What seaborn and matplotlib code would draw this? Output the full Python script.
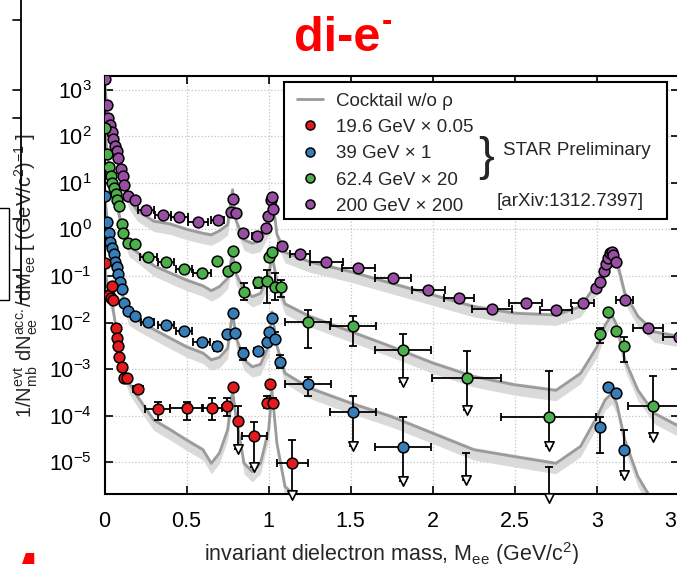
import numpy as np
import matplotlib
matplotlib.use("Agg")
import matplotlib.pyplot as plt
import seaborn as sns
from matplotlib.lines import Line2D
from matplotlib.patches import Rectangle
from matplotlib.ticker import FixedLocator, FuncFormatter, NullLocator

# ---- cocktail (w/o rho), common mass grid ----
mass = [0.0, 0.02, 0.05, 0.1, 0.15, 0.2, 0.3, 0.4, 0.5, 0.6, 0.65, 0.7, 0.75, 0.78, 0.8,
        0.85, 0.9, 0.95, 1.0, 1.02, 1.05, 1.1, 1.25, 1.5, 1.75, 2.0, 2.25, 2.5, 2.75, 2.9,
        3.0, 3.05, 3.09, 3.12, 3.17, 3.25, 3.35, 3.5]
ck_200 = [1.6e3, 250, 80, 16, 4.5, 2.5, 1.5, 1.3, 1.0, 0.82, 0.76, 0.93, 1.26, 7.1, 1.6,
          0.59, 0.50, 0.56, 1.26, 6.0, 0.79, 0.32, 0.20, 0.123, 0.069, 0.039, 0.022, 0.0158,
          0.0145, 0.022, 0.069, 0.20, 0.33, 0.22, 0.043, 0.0135, 0.0063, 0.005]
ck_62 = [160, 32, 8.9, 1.4, 0.43, 0.32, 0.166, 0.115, 0.081, 0.061, 0.048, 0.059, 0.089, 0.31,
         0.112, 0.050, 0.036, 0.042, 0.10, 0.28, 0.079, 0.025, 0.0135, 0.0064, 0.0030, 0.00135,
         6.9e-4, 4.6e-4, 3.5e-4, 8.1e-4, 0.0030, 0.0089, 0.0145, 0.0089, 0.00158, 3.5e-4,
         1.12e-4, 5.9e-5]
ck_39 = [5.6, 1.26, 0.32, 0.050, 0.0145, 0.0112, 0.0071, 0.0046, 0.0030, 0.0022, 0.00158,
         0.00178, 0.0028, 0.017, 0.0050, 0.00158, 0.00112, 0.00126, 0.0032, 0.017, 0.0032,
         8.1e-4, 3.9e-4, 1.86e-4, 9.5e-5, 4.2e-5, 1.86e-5, 1.32e-5, 9.5e-6, 2.2e-5, 9.5e-5,
         2.2e-4, 3.0e-4, 1.86e-4, 3.0e-5, 4.9e-6, 1.26e-6, 6.3e-7]
ck_19 = [0.18, 0.050, 0.022, 0.00158, 5.0e-4, 2.6e-4, 8.1e-5, 5.0e-5, 3.0e-5, 1.86e-5, 9.5e-6,
         1.58e-5, 5.0e-5, 3.5e-4, 1.0e-4, 9.5e-6, 6.3e-6, 9.5e-6, 5.0e-5, 3.5e-4, 2.6e-5, 3.0e-6,
         1e-6, 5e-7, 2.5e-7, 1.3e-7, 6.3e-8, 4e-8, 3.2e-8, 1e-7, 4e-7, 1e-6, 1.8e-6, 1e-6,
         2.5e-7, 5e-8, 1.6e-8, 1e-8]

# ---- 200 GeV x 200 ----
x_200 = [0.003, 0.013, 0.023, 0.034, 0.044, 0.054, 0.064, 0.074, 0.084, 0.10, 0.115, 0.12,
         0.145, 0.186, 0.253, 0.355, 0.456, 0.568, 0.69, 0.77, 0.785, 0.80, 0.846, 0.927,
         0.982, 0.998, 1.012, 1.019, 1.029, 1.083, 1.19, 1.35, 1.547, 1.76, 1.973, 2.16,
         2.36, 2.567, 2.75, 2.914, 2.995, 3.02, 3.04, 3.054, 3.066, 3.08, 3.09, 3.10, 3.115,
         3.168, 3.31, 3.5]
y_200 = [1.7e3, 470, 240, 170, 120, 85, 63, 47, 34, 20, 14, 8.9, 5.2, 4.3, 2.6, 2.0, 1.8,
         1.46, 1.55, 2.4, 4.5, 2.2, 0.85, 0.73, 1.05, 1.95, 4.3, 4.9, 2.7, 0.43, 0.30, 0.195,
         0.148, 0.091, 0.051, 0.034, 0.020, 0.026, 0.019, 0.026, 0.055, 0.076, 0.13, 0.18,
         0.24, 0.31, 0.32, 0.28, 0.20, 0.031, 0.0076, 0.005]
xe_200 = [0.003, 0.005, 0.005, 0.005, 0.005, 0.005, 0.005, 0.005, 0.005, 0.007, 0.007, 0.007,
          0.01, 0.02, 0.05, 0.05, 0.05, 0.06, 0.04, 0.008, 0.008, 0.008, 0.02, 0.03, 0.006,
          0.006, 0.006, 0.006, 0.006, 0.025, 0.06, 0.1, 0.1, 0.11, 0.1, 0.09, 0.12, 0.1,
          0.095, 0.07, 0.005, 0.005, 0.005, 0.005, 0.005, 0.005, 0.005, 0.005, 0.005, 0.05,
          0.09, 0.1]

# ---- 62.4 GeV x 20 ----
x_62 = [0.003, 0.017, 0.027, 0.038, 0.048, 0.058, 0.068, 0.078, 0.088, 0.105, 0.115, 0.14,
        0.186, 0.267, 0.373, 0.485, 0.592, 0.684, 0.75, 0.781, 0.795, 0.85, 0.937, 0.988,
        1.005, 1.019, 1.04, 1.074, 1.238, 1.512, 3.02, 3.07, 3.117, 3.166]
y_62 = [150, 42, 22, 14, 10, 7.9, 5.8, 4.3, 3.1, 1.3, 0.83, 0.50, 0.49, 0.25, 0.195, 0.14,
        0.115, 0.21, 0.13, 0.35, 0.155, 0.046, 0.073, 0.078, 0.25, 0.33, 0.059, 0.058, 0.0105,
        0.0085, 0.0057, 0.0166, 0.0066, 0.0032]
xe_62 = [0.003, 0.005, 0.005, 0.005, 0.005, 0.005, 0.005, 0.005, 0.005, 0.007, 0.007, 0.01,
         0.02, 0.05, 0.05, 0.05, 0.055, 0.02, 0.01, 0.008, 0.008, 0.02, 0.02, 0.008, 0.005,
         0.005, 0.01, 0.02, 0.14, 0.14, 0.005, 0.005, 0.005, 0.005]
ylo_62 = [150, 42, 22, 14, 10, 7.9, 5.8, 4.3, 3.1, 1.3, 0.83, 0.50, 0.49, 0.25, 0.195, 0.14,
          0.10, 0.21, 0.12, 0.35, 0.155, 0.0305, 0.055, 0.026, 0.25, 0.33, 0.0305, 0.036,
          0.0028, 0.0032, 0.0036, 0.0166, 0.0055, 0.00145]
yhi_62 = [150, 42, 22, 14, 10, 7.9, 5.8, 4.3, 3.1, 1.3, 0.83, 0.50, 0.49, 0.25, 0.195, 0.14,
          0.13, 0.21, 0.14, 0.35, 0.155, 0.069, 0.089, 0.135, 0.25, 0.33, 0.115, 0.083,
          0.0186, 0.0135, 0.0078, 0.0166, 0.0078, 0.005]
ulx_62 = [1.82, 2.207, 2.705, 3.344]
uly_62 = [0.0026, 6.4e-4, 9.5e-5, 1.6e-4]
ulxe_62 = [0.17, 0.21, 0.29, 0.155]
ultop_62 = [0.0056, 0.0024, 8.9e-4, 7.2e-4]
ulend_62 = [5.4e-4, 1.35e-4, 2.2e-5, 3.5e-5]

# ---- 39 GeV x 1 ----
x_39 = [0.003, 0.015, 0.025, 0.035, 0.045, 0.055, 0.064, 0.073, 0.082, 0.094, 0.105, 0.119,
        0.141, 0.186, 0.263, 0.373, 0.485, 0.592, 0.687, 0.748, 0.781, 0.795, 0.846, 0.937,
        0.988, 1.002, 1.019, 1.04, 1.07, 1.238, 3.02, 3.07, 3.117]
y_39 = [5.2, 1.46, 0.82, 0.54, 0.39, 0.29, 0.20, 0.155, 0.11, 0.073, 0.052, 0.026, 0.0178,
        0.0135, 0.0102, 0.0089, 0.0066, 0.0038, 0.0032, 0.0056, 0.0158, 0.0059, 0.0022,
        0.0024, 0.0038, 0.0064, 0.0127, 0.0045, 0.00145, 4.7e-4, 5.6e-5, 4.2e-4, 3.0e-4]
xe_39 = [0.003, 0.004, 0.004, 0.004, 0.004, 0.004, 0.004, 0.004, 0.004, 0.005, 0.005, 0.007,
         0.01, 0.02, 0.04, 0.05, 0.05, 0.05, 0.02, 0.008, 0.008, 0.008, 0.02, 0.025, 0.008,
         0.005, 0.005, 0.008, 0.015, 0.14, 0.005, 0.005, 0.005]
ylo_39 = [5.2, 1.46, 0.82, 0.54, 0.39, 0.29, 0.20, 0.155, 0.11, 0.073, 0.052, 0.026, 0.0178,
          0.0135, 0.0102, 0.0089, 0.0066, 0.0033, 0.0024, 0.0056, 0.0158, 0.0059, 0.00158,
          0.0024, 0.0038, 0.0064, 0.0127, 0.0036, 0.00105, 2.6e-4, 1.6e-5, 4.2e-4, 3.0e-4]
yhi_39 = [5.2, 1.46, 0.82, 0.54, 0.39, 0.29, 0.20, 0.155, 0.11, 0.073, 0.052, 0.026, 0.0178,
          0.0135, 0.0102, 0.0089, 0.0066, 0.0044, 0.0039, 0.0056, 0.0158, 0.0059, 0.0028,
          0.0024, 0.0038, 0.0064, 0.0127, 0.0062, 0.0020, 6.9e-4, 9.5e-5, 4.2e-4, 3.0e-4]
ulx_39 = [1.512, 1.82, 2.205, 2.705, 3.166]
uly_39 = [1.23e-4, 2.1e-5, 1e-6, 1e-6, 1.86e-5]
ulxe_39 = [0.14, 0.17, 0.21, 0.29, 0.005]
ultop_39 = [2.6e-4, 9.5e-5, 1.6e-5, 7.8e-6, 5.0e-5]
ulend_39 = [2.2e-5, 3.9e-6, 4.2e-6, 1.7e-6, 5.4e-6]

# ---- 19.6 GeV x 0.05 ----
x_19 = [0.005, 0.027, 0.04, 0.044, 0.054, 0.068, 0.076, 0.084, 0.09, 0.105, 0.119, 0.139,
        0.202, 0.324, 0.501, 0.653, 0.745, 0.785, 0.992, 1.008, 1.029]
y_19 = [0.19, 0.039, 0.033, 0.061, 0.030, 0.0076, 0.0046, 0.0032, 0.0018, 0.0011, 6.6e-4,
        6.6e-4, 3.7e-4, 1.38e-4, 1.48e-4, 1.48e-4, 1.62e-4, 4.2e-4, 1.86e-4, 4.8e-4, 1.9e-4]
xe_19 = [0.003, 0.004, 0.004, 0.004, 0.004, 0.004, 0.004, 0.004, 0.004, 0.005, 0.005, 0.008,
         0.03, 0.075, 0.1, 0.06, 0.02, 0.008, 0.008, 0.005, 0.008]
ylo_19 = [0.19, 0.039, 0.033, 0.061, 0.030, 0.0076, 0.0046, 0.0032, 0.0018, 0.0011, 6.6e-4,
          6.6e-4, 3.7e-4, 7.9e-5, 8.3e-5, 8.1e-5, 1.0e-4, 4.2e-4, 1.5e-4, 4.8e-4, 1.5e-4]
yhi_19 = [0.19, 0.039, 0.033, 0.061, 0.030, 0.0076, 0.0046, 0.0032, 0.0018, 0.0011, 6.6e-4,
          6.6e-4, 3.7e-4, 2.0e-4, 2.0e-4, 2.4e-4, 2.4e-4, 4.2e-4, 2.7e-4, 4.8e-4, 2.4e-4]
ulx_19 = [0.815, 0.913, 1.145]
uly_19 = [7.8e-5, 3.7e-5, 9.5e-6]
ulxe_19 = [0.008, 0.075, 0.095]
ultop_19 = [1.6e-4, 7.4e-5, 3.0e-5]
ulend_19 = [1.9e-5, 8.1e-6, 2.0e-6]

labels = ["19.6 GeV \u00d7 0.05", "39 GeV \u00d7 1", "62.4 GeV \u00d7 20", "200 GeV \u00d7 200"]

sns.set_theme(style="ticks")
plt.rcParams["font.family"] = ["Liberation Sans", "DejaVu Sans"]
plt.rcParams["mathtext.fontset"] = "custom"
plt.rcParams["mathtext.rm"] = "Liberation Sans"
plt.rcParams["mathtext.it"] = "Liberation Sans:italic"
plt.rcParams["mathtext.bf"] = "Liberation Sans:bold"
plt.rcParams["mathtext.default"] = "regular"

pal = sns.color_palette("Set1")
col = {"19": pal[0], "39": pal[1], "62": pal[2], "200": pal[3]}

fig = plt.figure(figsize=(6.77, 5.64), dpi=100)
ax = fig.add_axes([0.1544, 0.1236, 0.8486, 0.7417])
ax.set_yscale("log")

# cocktails: band + line
for ck in [ck_200, ck_62, ck_39, ck_19]:
    ck = np.array(ck)
    ax.fill_between(mass, ck * 0.6, ck * 1.12, color="#dadada", lw=0, zorder=1)
    sns.lineplot(x=mass, y=ck, ax=ax, color="#9b9b9b", lw=2, estimator=None, zorder=2)

err_kw = dict(fmt="none", ecolor="black", elinewidth=1.3, capsize=3, capthick=1.3, zorder=3)

# 200 GeV (only x errors visible)
ax.errorbar(x_200, y_200, xerr=xe_200, **err_kw)

for xs, ys, xe, lo, hi in [(x_62, y_62, xe_62, ylo_62, yhi_62),
                           (x_39, y_39, xe_39, ylo_39, yhi_39),
                           (x_19, y_19, xe_19, ylo_19, yhi_19)]:
    ys, lo, hi = np.array(ys), np.array(lo), np.array(hi)
    ax.errorbar(xs, ys, xerr=xe, yerr=[ys - lo, hi - ys], **err_kw)

# upper limits: bar from the limit down to an open arrow head
for ux, uy, uxe, utop, uend, c in [(ulx_62, uly_62, ulxe_62, ultop_62, ulend_62, col["62"]),
                                   (ulx_39, uly_39, ulxe_39, ultop_39, ulend_39, col["39"]),
                                   (ulx_19, uly_19, ulxe_19, ultop_19, ulend_19, col["19"])]:
    utop, uend = np.array(utop), np.array(uend)
    ax.errorbar(ux, uy, xerr=uxe, **err_kw)
    ax.errorbar(ux, uend, yerr=[np.zeros_like(uend), utop - uend], **err_kw)
    ax.scatter(ux, uend, marker="v", s=45, facecolor="white", edgecolor="black",
               linewidths=1.2, zorder=6, clip_on=False)
    sns.scatterplot(x=ux, y=uy, ax=ax, color=c, edgecolor="black", linewidth=1.1,
                    s=60, zorder=5)

for xs, ys, c in [(x_200, y_200, col["200"]), (x_62, y_62, col["62"]),
                  (x_39, y_39, col["39"]), (x_19, y_19, col["19"])]:
    sns.scatterplot(x=xs, y=ys, ax=ax, color=c, edgecolor="black", linewidth=1.1,
                    s=60, zorder=5)

ax.set_xlim(0, 3.5)
ax.set_ylim(2.06e-6, 1.96e3)
ax.xaxis.set_major_locator(FixedLocator([0, 0.5, 1, 1.5, 2, 2.5, 3, 3.5]))
ax.xaxis.set_major_formatter(FuncFormatter(lambda v, p: f"{v:g}"))
ax.yaxis.set_major_locator(FixedLocator([1e-5, 1e-4, 1e-3, 1e-2, 1e-1, 1, 10, 100, 1000]))
ax.yaxis.set_minor_locator(NullLocator())
ax.tick_params(axis="both", direction="in", top=True, right=True, length=6, width=1.2,
               labelsize=15.5, colors="black")
ax.tick_params(axis="x", pad=12)
ax.tick_params(axis="y", pad=9)
for s in ax.spines.values():
    s.set_linewidth(1.5)
    s.set_color("black")
ax.grid(True, which="major", ls=":", color="#c4c4c4", lw=0.9)
ax.set_axisbelow(True)

ax.set_xlabel(r"invariant dielectron mass, M$_{ee}$ (GeV/c$^{2}$)", fontsize=15.5)
ax.xaxis.set_label_coords(0.5, -0.109)
ax.set_ylabel(r"1/N$^{evt}_{mb}$ dN$^{acc.}_{ee}$/dM$_{ee}$ [ (GeV/c$^{2}$)$^{-1}$ ]",
              fontsize=14.5)
ax.yaxis.set_label_coords(-0.112, 0.524)

# legend
ax.add_patch(Rectangle((0.3125, 0.6581), 0.6668, 0.3275, transform=ax.transAxes,
                       facecolor="white", edgecolor="black", lw=1.5, zorder=10))
handles = [Line2D([], [], color="#9b9b9b", lw=2)]
for k in ["19", "39", "62", "200"]:
    handles.append(Line2D([], [], ls="none", marker="o", markersize=6.5,
                          markerfacecolor=col[k], markeredgecolor="black",
                          markeredgewidth=1.1))
leg = ax.legend(handles, ["Cocktail w/o \u03c1"] + labels, loc="upper left",
                bbox_to_anchor=(0.3346, 0.9605), frameon=False, fontsize=13.5,
                handlelength=1.4, handletextpad=0.7, labelspacing=0.49,
                borderpad=0, borderaxespad=0)
leg.set_zorder(11)
ax.text(0.6642, 0.8028, "}", transform=ax.transAxes, fontsize=34, ha="center", va="center",
        family=["Liberation Sans Narrow", "Liberation Sans"], zorder=12)
ax.text(0.6933, 0.8207, "STAR Preliminary", transform=ax.transAxes, fontsize=13.5,
        ha="left", va="center", zorder=12)
ax.text(0.6833, 0.6988, "[arXiv:1312.7397]", transform=ax.transAxes, fontsize=13.5,
        ha="left", va="center", zorder=12)

# title with superscript minus placed right after the main text
title = fig.text(294 / 677, 1 - 51 / 564, "di-e", color="red", fontsize=35, fontweight="bold",
                 family=["Liberation Sans Narrow", "Liberation Sans"], ha="left",
                 va="baseline")
fig.canvas.draw()
tb = title.get_window_extent()
fig.text((tb.x1 + 1) / 677, 1 - 30 / 564, "-", color="red", fontsize=22, fontweight="bold",
         family=["Liberation Sans Narrow", "Liberation Sans"], ha="left", va="baseline")

# fragments of the neighbouring slide content
fig.add_artist(Line2D([21 / 677, 21 / 677], [1, 1 - 303 / 564], transform=fig.transFigure,
                      color="black", lw=1.3))
for ty in [20, 90, 118, 219, 270]:
    fig.add_artist(Line2D([13 / 677, 21 / 677], [1 - ty / 564] * 2, transform=fig.transFigure,
                          color="black", lw=1.2))
fig.add_artist(Rectangle((-5 / 677, 1 - 300 / 564), 14 / 677, 92 / 564,
                         transform=fig.transFigure, fill=False, edgecolor="black", lw=1))
fig.text(-46 / 677, 1 - 616 / 564, "ot", color="red", fontsize=70, fontweight="bold",
         ha="left", va="baseline")

fig.savefig("out.png", dpi=100)
